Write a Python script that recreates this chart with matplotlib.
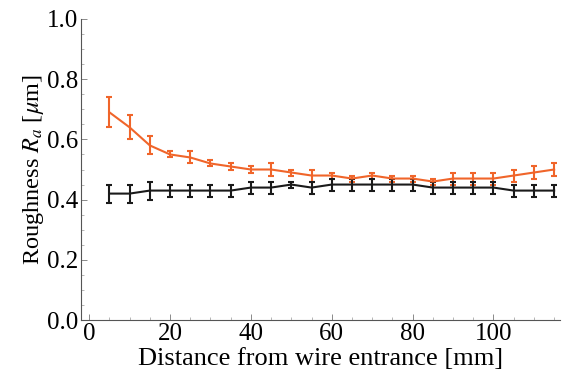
import numpy as np
import matplotlib
matplotlib.use("Agg")
import matplotlib.pyplot as plt
from matplotlib.ticker import MultipleLocator

plt.rcParams['font.family'] = ['Liberation Serif', 'DejaVu Serif']
plt.rcParams['mathtext.fontset'] = 'stix'

# distance from wire entrance [mm]
distance = [5, 10, 15, 20, 25, 30, 35, 40, 45, 50, 55, 60,
            65, 70, 75, 80, 85, 90, 95, 100, 105, 110, 115]

# orange series
ra_orange = [0.69, 0.64, 0.58, 0.55, 0.54, 0.52, 0.51, 0.50, 0.50, 0.49, 0.48, 0.48,
             0.47, 0.48, 0.47, 0.47, 0.46, 0.47, 0.47, 0.47, 0.48, 0.49, 0.50]
err_orange = [0.05, 0.04, 0.03, 0.01, 0.02, 0.01, 0.01, 0.01, 0.02, 0.01, 0.02, 0.01,
              0.01, 0.01, 0.01, 0.01, 0.01, 0.02, 0.02, 0.02, 0.02, 0.02, 0.02]

# black series
ra_black = [0.42, 0.42, 0.43, 0.43, 0.43, 0.43, 0.43, 0.44, 0.44, 0.45, 0.44, 0.45,
            0.45, 0.45, 0.45, 0.45, 0.44, 0.44, 0.44, 0.44, 0.43, 0.43, 0.43]
err_black = [0.03, 0.03, 0.03, 0.02, 0.02, 0.02, 0.02, 0.02, 0.02, 0.01, 0.02, 0.02,
             0.02, 0.02, 0.02, 0.02, 0.02, 0.02, 0.02, 0.02, 0.02, 0.02, 0.02]

fig = plt.figure(figsize=(5.67, 3.87), dpi=100)
ax = fig.add_axes([0.143, 0.173, 0.845, 0.778])

orange = '#F0652A'
ax.errorbar(distance, ra_orange, yerr=err_orange, color=orange, lw=1.5,
            elinewidth=1.5, capsize=2, capthick=1.5)
ax.errorbar(distance, ra_black, yerr=err_black, color='#1a1a1a', lw=1.5,
            elinewidth=1.5, capsize=2, capthick=1.5)

ax.set_xlim(-2, 116.5)
ax.set_ylim(0, 1.0)
ax.xaxis.set_major_locator(MultipleLocator(20))
ax.xaxis.set_minor_locator(MultipleLocator(5))
ax.yaxis.set_major_locator(MultipleLocator(0.2))
ax.yaxis.set_minor_locator(MultipleLocator(0.05))
ax.yaxis.set_major_formatter(matplotlib.ticker.FormatStrFormatter('%.1f'))

for s in ['top', 'right']:
    ax.spines[s].set_visible(False)
for s in ['left', 'bottom']:
    ax.spines[s].set_color('#555555')
    ax.spines[s].set_linewidth(0.8)

ax.tick_params(which='major', direction='in', length=4, width=0.6, color='#777777',
               labelsize=18, pad=2)
ax.tick_params(which='minor', direction='in', length=2, width=0.5, color='#999999')

ax.set_xlabel('Distance from wire entrance [mm]', fontsize=19, labelpad=2)
ax.set_ylabel(r'Roughness $R_a$ [$\mu$m]', fontsize=17.5, labelpad=1)

fig.savefig('out.png', dpi=100)
